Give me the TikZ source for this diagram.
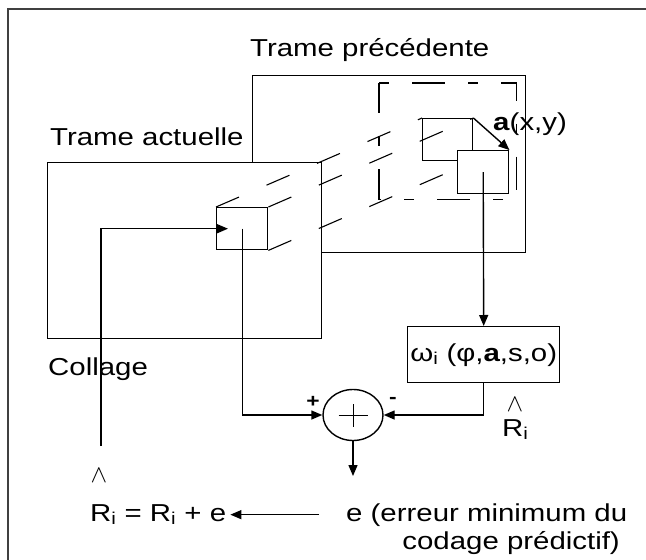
\documentclass[tikz,border=0pt]{standalone}
\usepackage{fontspec}
\setmainfont{Liberation Sans}[FakeStretch=1.2]
\usetikzlibrary{arrows.meta,shapes.geometric}
\begin{document}
\begin{tikzpicture}[x=1pt,y=-1pt,
  ln/.style={line width=1.4pt},
  tip/.style={-{Triangle[length=11pt,width=9pt]}},
  frame/.style={draw,line width=1.4pt,inner sep=0pt,anchor=north west},
  dl/.style={line width=1.1pt,dash pattern=on 25pt off 30pt},
  win/.style={line width=1.4pt,dash pattern=on 10pt off 23pt on 33pt off 23pt},
  txt/.style={font=\fontsize{24.5}{29}\selectfont,inner sep=0pt},
  sgn/.style={font=\fontsize{19}{22}\selectfont\bfseries,inner sep=0pt}]
\useasboundingbox (0,0) rectangle (646,560);
% outer frame (cut at right and bottom)
\draw[line width=2pt,black!75] (8,580) -- (8,9) -- (660,9);
% frames
\node[frame,minimum width=273pt,minimum height=177pt] (prev) at (252,75) {};
\node[inner sep=0pt,anchor=north west,minimum width=137pt,minimum height=116pt] (window) at (379,83) {};
\draw[win] (window.north west) -- (window.north east) -- (window.south east) -- (window.south west) -- cycle;
\node[frame,fill=white,minimum width=274pt,minimum height=176pt] (cur) at (47,162) {};
\node[frame,fill=white,minimum width=51pt,minimum height=42pt] (cbox) at (216,207) {};
\node[frame,minimum width=50pt,minimum height=42pt] (box1) at (422,118) {};
% projection lines
\draw[dl] (cbox.north west) -- (box1.north west);
\draw[dl] (cbox.north east) -- (box1.north east);
\draw[dl] (cbox.south east) -- (box1.south east);
\node[frame,fill=white,minimum width=51pt,minimum height=43pt] (box2) at (457,150) {};
\draw[ln,tip] (box1.north east) -- (box2.north east);
% labels
\node[txt,anchor=base west] (tprev) at (250,56) {Trame précédente};
\node[txt,anchor=base west] (tcur) at (50,145) {Trame actuelle};
\node[txt,anchor=base west] (tcol) at (48,375) {Collage};
\node[txt,anchor=base west] (avec) at (493,130) {\textbf{a}(x,y)};
% operator box and summer
\node[frame,minimum width=152pt,minimum height=56pt,font=\fontsize{24.5}{29}\selectfont] (omega) at (407,326) {ω\textsubscript{i} (φ,\textbf{a},s,o)};
\node[draw,ellipse,line width=1.4pt,minimum width=60pt,minimum height=51pt,inner sep=0pt] (sum) at (353,415) {};
\draw[line width=0.9pt] ([xshift=-14.5pt]sum.center) -- ([xshift=14.5pt]sum.center);
\draw[line width=0.9pt] ([yshift=-11.5pt]sum.center) -- ([yshift=11.5pt]sum.center);
\node[sgn] (plus) at (313,402) {+};
\node[sgn] (minus) at (393,400) {-};
% connectors
\draw[ln,tip] (box2.center) -- (omega.north);
\draw[ln,tip] (omega.south) |- (sum.east);
\draw[ln,tip] (cbox.center) |- (sum.west);
\coordinate (etip) at (353,476);
\draw[ln,tip] (sum.south) -- (etip);
\coordinate (rstart) at (101,446);
\draw[ln,tip] (rstart) |- ([xshift=12pt]cbox.west);
% R hat labels
\node[inner sep=0pt,font=\fontsize{24.5}{29}\selectfont] (hat1) at (515,405) {$\wedge$};
\node[txt,anchor=base west] (rhat) at (502,436) {R\textsubscript{i}};
\node[inner sep=0pt,font=\fontsize{24.5}{29}\selectfont] (hat2) at (99,476) {$\wedge$};
% bottom equation
\node[txt,anchor=base west] (req) at (90,521) {R\textsubscript{i} = R\textsubscript{i} + e};
\node[txt,anchor=base west] (err) at (346,521) {e (erreur minimum du};
\node[txt,anchor=base east] (err2) at (620,549) {codage prédictif)};
\coordinate (reqe) at ([xshift=4pt]req.east);
\draw[ln,tip,shorten <=27pt] (err.west) -- (err.west -| reqe);
\end{tikzpicture}
\end{document}
